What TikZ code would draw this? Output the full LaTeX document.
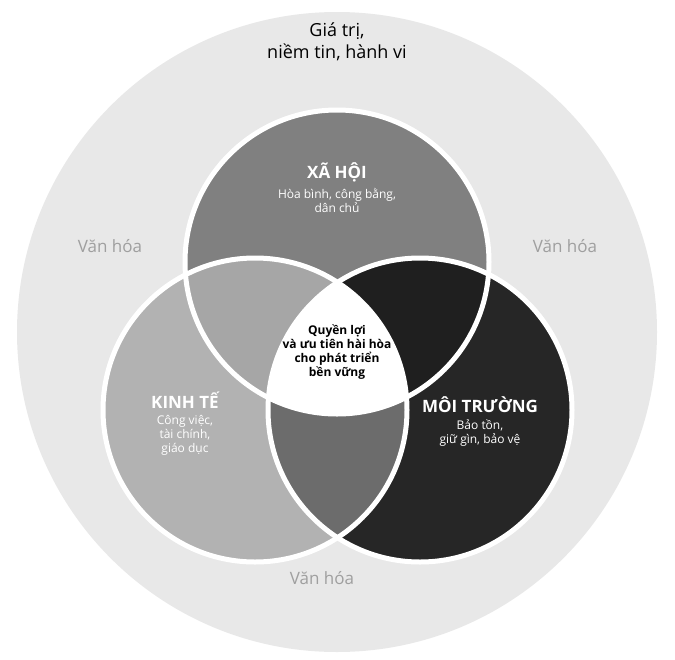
\documentclass[tikz,border=0pt]{standalone}
\usepackage{fontspec}
\setmainfont{Open Sans}
\usetikzlibrary{positioning}
\begin{document}
\tikzset{
  gap/.style={draw=white, line width=5pt},
  title/.style={font=\fontsize{17}{20}\selectfont\bfseries, text=white},
  sub/.style={font=\fontsize{12}{14}\selectfont, text=white, align=center},
  culture/.style={font=\fontsize{17}{20}\selectfont, text=gray!75}
}
\begin{tikzpicture}[x=1pt,y=-1pt]
      \useasboundingbox (0,0) rectangle (675,659);
      \fill[white] (0,0) rectangle (675,659);

      % outer ring
      \fill[gray!18] (337,332) circle (320);

      \coordinate (ctop) at (337,262);
      \coordinate (cleft) at (255,410);
      \coordinate (cright) at (420,410);
      \def\rad{152}

      \fill[gray!75!black!80] (ctop) circle (\rad);
      \fill[gray!60] (cleft) circle (\rad);
      \fill[black!85] (cright) circle (\rad);
      \begin{scope}
        \clip (ctop) circle (\rad);
        \fill[gray!70] (cleft) circle (\rad);
        \fill[black!88] (cright) circle (\rad);
      \end{scope}
      \begin{scope}
        \clip (cleft) circle (\rad);
        \fill[gray!85!black] (cright) circle (\rad);
      \end{scope}
      \begin{scope}
        \clip (ctop) circle (\rad);
        \clip (cleft) circle (\rad);
        \fill[white] (cright) circle (\rad);
      \end{scope}
      \draw[gap] (ctop) circle (\rad);
      \draw[gap] (cleft) circle (\rad);
      \draw[gap] (cright) circle (\rad);

      \node[font=\fontsize{18}{22}\selectfont, align=center] (values) at (337,42) {Giá trị,\\niềm tin, hành vi};
      \node[culture] (cult1) at (110,246) {Văn hóa};
      \node[culture] (cult2) at (565,246) {Văn hóa};
      \node[culture] (cult3) at (322,578) {Văn hóa};

      \node[title] (xahoi) at (337,172) {XÃ HỘI};
      \node[sub, below=0pt of xahoi] (xahoisub) {Hòa bình, công bằng,\\dân chủ};
      \node[title] (kinhte) at (185,400) {KINH TẾ};
      \node[sub, below=0pt of kinhte] (kinhtesub) {Công việc,\\tài chính,\\giáo dục};
      \node[title] (moitruong) at (480,405) {MÔI TRƯỜNG};
      \node[sub, below=0pt of moitruong] (moitruongsub) {Bảo tồn,\\giữ gìn, bảo vệ};

      \node[font=\fontsize{12}{14}\selectfont\bfseries, align=center] (center) at (337,352) {Quyền lợi\\và ưu tiên hài hòa\\cho phát triển\\bền vững};
\end{tikzpicture}
\end{document}
